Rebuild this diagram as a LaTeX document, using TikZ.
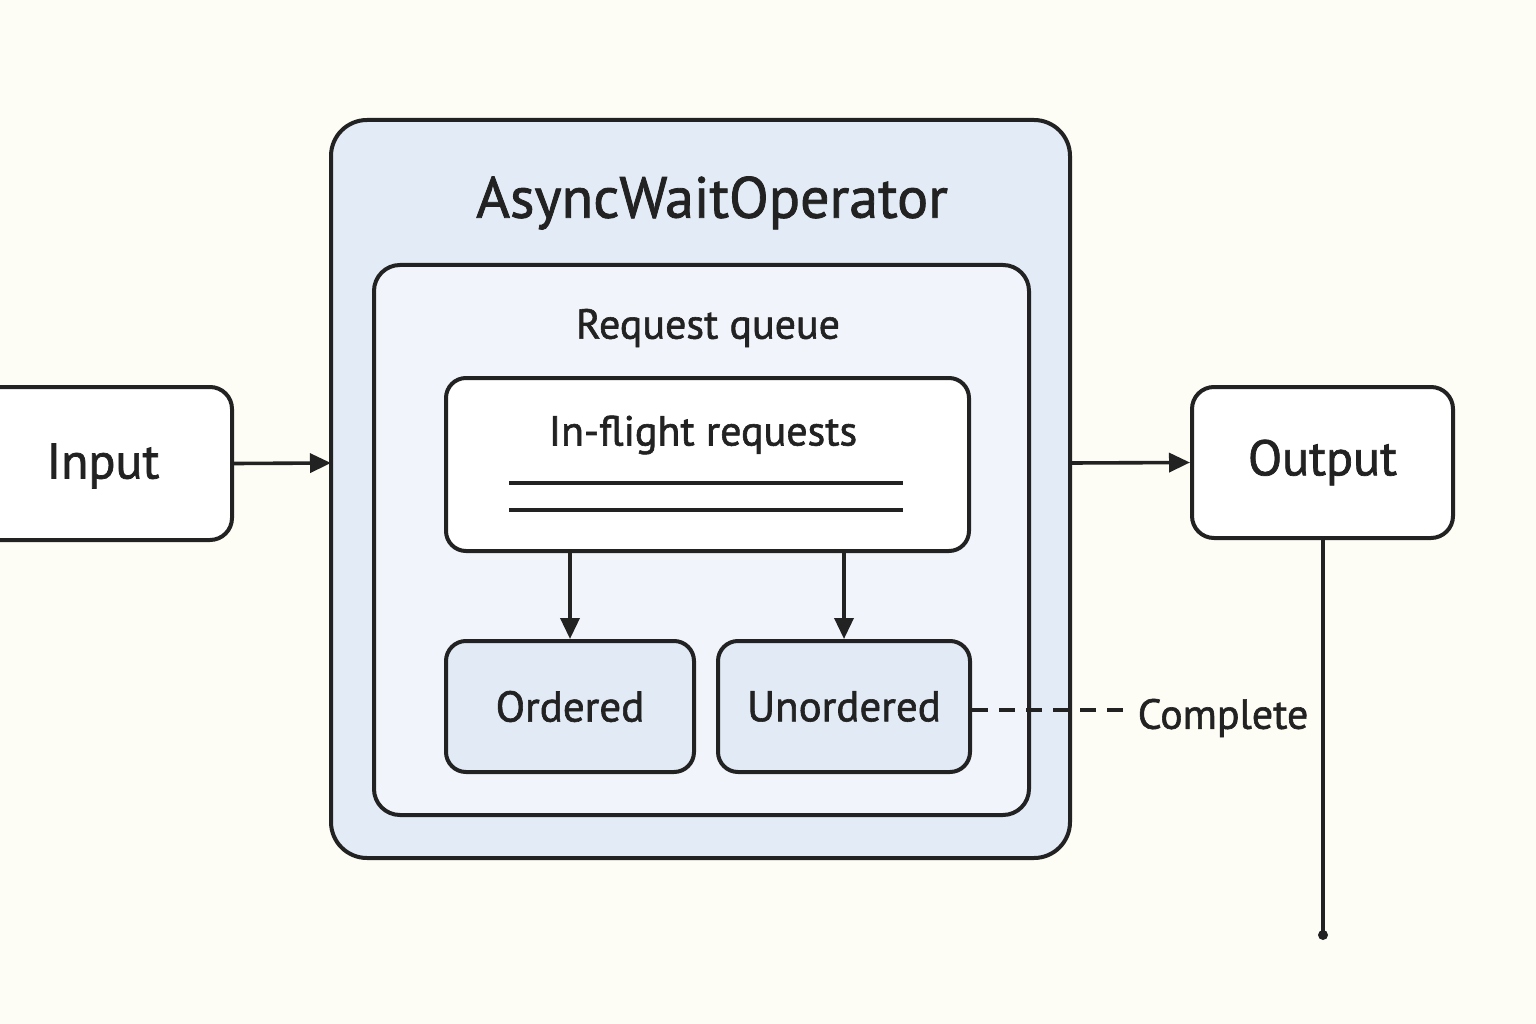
\documentclass[tikz,border=0pt]{standalone}
\usepackage{fontspec}
\setmainfont[FakeBold=1.4]{PT Sans}
\usetikzlibrary{arrows.meta}
\definecolor{bgc}{HTML}{FDFCF5}
\definecolor{outerc}{HTML}{E3ECF6}
\definecolor{innerc}{HTML}{F1F5FB}
\definecolor{modec}{HTML}{E1EAF5}
\definecolor{linec}{HTML}{222222}
\tikzset{
  box/.style={draw=linec, line width=4pt, rounded corners=#1},
  box/.default=20pt,
  conn/.style={draw=linec, line width=3.6pt, -{Triangle[length=21pt,width=19pt]}},
  lbl/.style={text=linec, inner sep=0pt, anchor=center},
}
\begin{document}
\begin{tikzpicture}[x=1pt,y=-1pt]
\useasboundingbox (0,0) rectangle (1536,1024);
\fill[bgc] (0,0) rectangle (1536,1024);
% outer and inner frames
\draw[box=36pt, fill=outerc] (331,120) rectangle (1070,858);
\coordinate (outerW) at (331,463);
\coordinate (outerE) at (1070,463);
\node[lbl, font=\fontsize{58}{60}\selectfont] (title) at (712,203) {AsyncWaitOperator};
\draw[box=26pt, fill=innerc] (374,265) rectangle (1029,815);
\node[lbl, font=\fontsize{42}{44}\selectfont] (rq) at (708,328) {Request queue};
% in-flight box
\node[box=20pt, fill=white, minimum width=523pt, minimum height=173pt, inner sep=0pt] (inflight) at (707.5,464.5) {};
\node[lbl, font=\fontsize{42}{44}\selectfont] (iftext) at (703,435) {In-flight requests};
\coordinate (l1a) at (509,483); \coordinate (l1b) at (903,483);
\coordinate (l2a) at (509,510); \coordinate (l2b) at (903,510);
\draw[linec, line width=3.4pt] (l1a) -- (l1b);
\draw[linec, line width=3.4pt] (l2a) -- (l2b);
% mode boxes
\node[box=20pt, fill=modec, minimum width=248pt, minimum height=131pt, inner sep=0pt, font=\fontsize{43}{45}\selectfont, text=linec] (ordered) at (570,706.5) {Ordered};
\node[box=20pt, fill=modec, minimum width=252pt, minimum height=131pt, inner sep=0pt, font=\fontsize{43}{45}\selectfont, text=linec] (unordered) at (844,706.5) {Unordered};
\draw[conn] (inflight.south -| ordered.north) -- (ordered.north);
\draw[conn] (inflight.south -| unordered.north) -- (unordered.north);
% input / output
\node[box=22pt, fill=white, minimum width=262pt, minimum height=153pt, inner sep=0pt] (input) at (101,463.5) {};
\node[lbl, font=\fontsize{50}{52}\selectfont] (intext) at (103,466) {Input};
\node[box=22pt, fill=white, minimum width=261pt, minimum height=151pt, inner sep=0pt, font=\fontsize{50}{52}\selectfont, text=linec] (output) at (1322.5,462.5) {Output};
\draw[conn] (input.east) -- (outerW);
\draw[conn] (outerE) -- (output.west);
% complete
\coordinate (dashend) at (1125,710);
\draw[linec, line width=3.4pt, dash pattern=on 16pt off 11pt] (unordered.east |- dashend) -- (dashend);
\node[lbl, font=\fontsize{42}{44}\selectfont] (complete) at (1223,718) {Complete};
\coordinate (dot) at (1323,935);
\draw[linec, line width=3.4pt] (output.south -| dot) -- (dot);
\fill[linec] (dot) circle (5pt);
\end{tikzpicture}
\end{document}
